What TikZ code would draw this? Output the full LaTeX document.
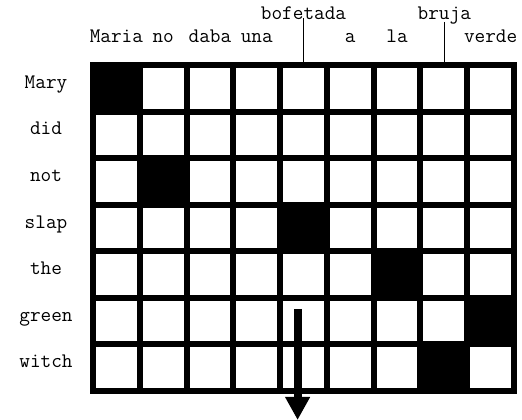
\documentclass[tikz,border=0pt]{standalone}
\usepackage{fontspec}
\usetikzlibrary{arrows.meta}
\begin{document}
\begin{tikzpicture}[x=0.75pt,y=-0.75pt,
  lab/.style={font=\ttfamily\fontsize{15.5}{18}\selectfont, anchor=base, inner sep=0pt},
  gridline/.style={line width=4.5pt, line cap=rect},
  linkline/.style={line width=1pt},
  bigarrow/.style={line width=6pt, -{Triangle[width=17.6pt,length=17.3pt]}}]
\useasboundingbox (0,0) rectangle (522,420);
% grid
\foreach \i in {0,...,9} \draw[gridline] (93+\i*46.78,65) -- (93+\i*46.78,391);
\foreach \j in {0,...,7} \draw[gridline] (93,65+\j*46.57) -- (514,65+\j*46.57);
% alignment cells
\foreach \c/\r in {0/0,1/2,4/3,6/4,8/5,7/6}
  \fill (93+\c*46.78,65+\r*46.57) rectangle ++(46.78,46.57);
% top labels
\foreach \w/\c in {Maria/0,no/1,daba/2,una/3,a/5,la/6,verde/8}
  \node[lab] (top\c) at (116.4+\c*46.78,43) {\w};
\node[lab] (top4) at (303.5,20) {bofetada};
\node[lab] (top7) at (444.3,20) {bruja};
\coordinate (g4) at (303.5,65);
\coordinate (g7) at (444.3,65);
\draw[linkline] (303.5,18) coordinate (b4) -- (g4);
\draw[linkline] (444.3,22) coordinate (b7) -- (g7);
% row labels
\foreach \w/\r in {Mary/0,did/1,not/2,slap/3,the/4,green/5,witch/6}
  \node[lab] (row\r) at (46,88.3+\r*46.57) {\w};
% arrow
\coordinate (arrS) at (297.6,309);
\coordinate (arrE) at (297.6,420);
\draw[bigarrow] (arrS) -- (arrE);
\end{tikzpicture}
\end{document}
